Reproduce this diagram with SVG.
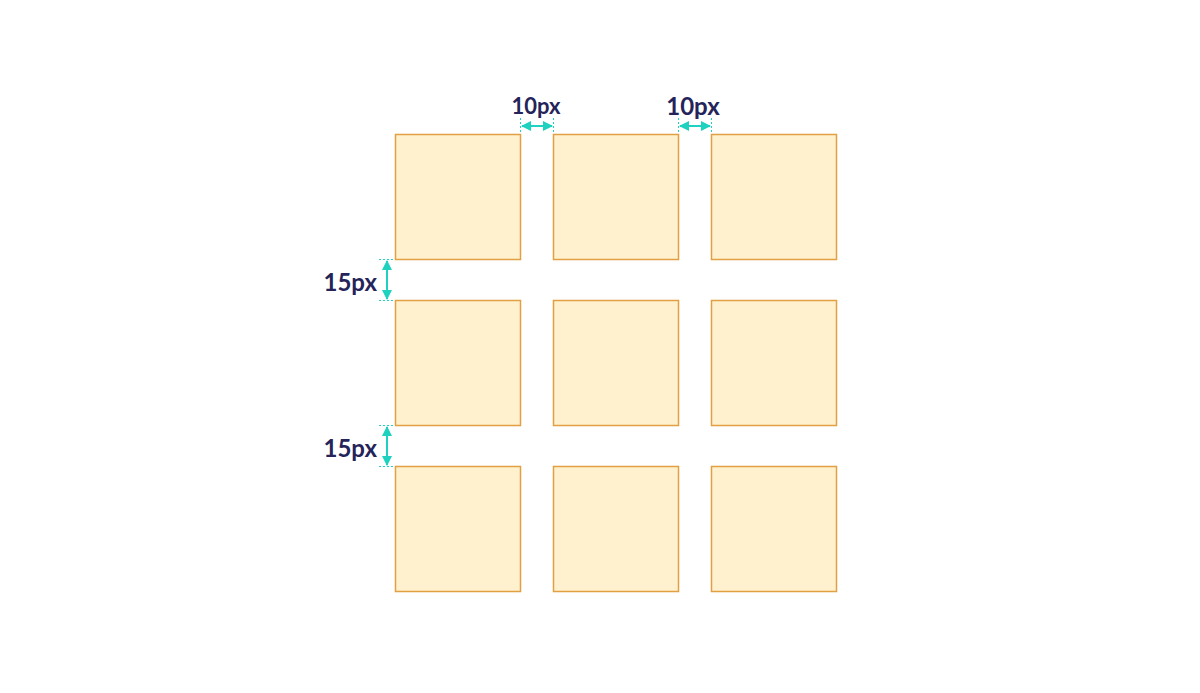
<svg xmlns="http://www.w3.org/2000/svg" width="1200" height="693" viewBox="0 0 1200 693">
<defs>
<style>
.box{fill:#fff1cd;stroke:#e2a043;stroke-width:1.5}
.dim{stroke:#1fd1bf;stroke-width:2;fill:none}
.ext{stroke:#1fd1bf;stroke-width:1;stroke-dasharray:2 2;fill:none}
.lbl{font-family:"Lato","Open Sans",sans-serif;font-weight:700;fill:#25245a}
</style>
<marker id="ah" viewBox="0 0 10 10" refX="9" refY="5" markerWidth="5" markerHeight="5" orient="auto-start-reverse">
<path d="M0,0 L10,5 L0,10 z" fill="#1fd1bf"/>
</marker>
</defs>
<rect width="1200" height="693" fill="#ffffff"/>
<g id="nodes">
<g id="n11"><rect class="box" x="395.5" y="134.5" width="125" height="125"/></g>
<g id="n12"><rect class="box" x="553.5" y="134.5" width="125" height="125"/></g>
<g id="n13"><rect class="box" x="711.5" y="134.5" width="125" height="125"/></g>
<g id="n21"><rect class="box" x="395.5" y="300.5" width="125" height="125"/></g>
<g id="n22"><rect class="box" x="553.5" y="300.5" width="125" height="125"/></g>
<g id="n23"><rect class="box" x="711.5" y="300.5" width="125" height="125"/></g>
<g id="n31"><rect class="box" x="395.5" y="466.5" width="125" height="125"/></g>
<g id="n32"><rect class="box" x="553.5" y="466.5" width="125" height="125"/></g>
<g id="n33"><rect class="box" x="711.5" y="466.5" width="125" height="125"/></g>
</g>
<g id="connectors">
<line class="ext" x1="520.5" y1="118" x2="520.5" y2="134"/>
<line class="ext" x1="553.5" y1="118" x2="553.5" y2="134"/>
<line class="dim" x1="522" y1="126" x2="552" y2="126" marker-start="url(#ah)" marker-end="url(#ah)"/>
<line class="ext" x1="678.5" y1="118" x2="678.5" y2="134"/>
<line class="ext" x1="711.5" y1="118" x2="711.5" y2="134"/>
<line class="dim" x1="680" y1="126" x2="710" y2="126" marker-start="url(#ah)" marker-end="url(#ah)"/>
<line class="ext" x1="379" y1="259.5" x2="395" y2="259.5"/>
<line class="ext" x1="379" y1="300.5" x2="395" y2="300.5"/>
<line class="dim" x1="387" y1="261" x2="387" y2="299" marker-start="url(#ah)" marker-end="url(#ah)"/>
<line class="ext" x1="379" y1="425.5" x2="395" y2="425.5"/>
<line class="ext" x1="379" y1="466.5" x2="395" y2="466.5"/>
<line class="dim" x1="387" y1="427" x2="387" y2="465" marker-start="url(#ah)" marker-end="url(#ah)"/>
</g>
<g id="labels">
<text class="lbl" x="536" y="114" font-size="22" text-anchor="middle">10px</text>
<text class="lbl" x="693" y="115" font-size="24" text-anchor="middle">10px</text>
<text class="lbl" x="377" y="291" font-size="24" text-anchor="end">15px</text>
<text class="lbl" x="377" y="457" font-size="24" text-anchor="end">15px</text>
</g>
</svg>
